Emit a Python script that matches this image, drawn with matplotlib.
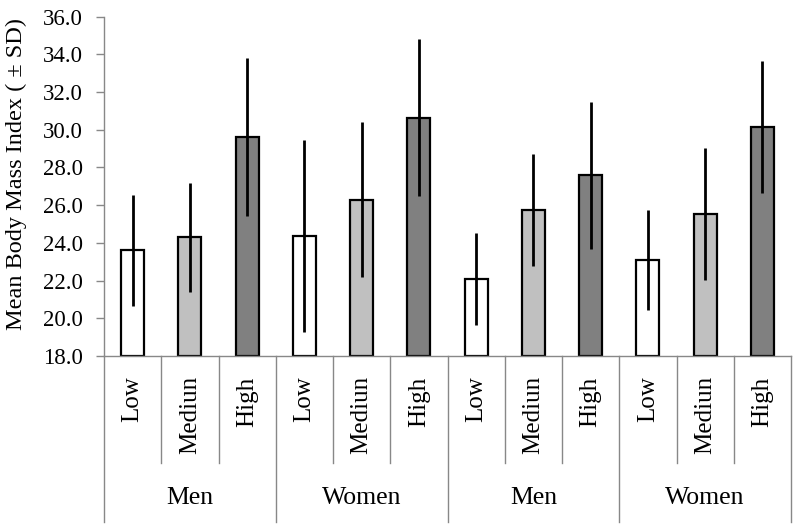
import matplotlib
matplotlib.use("Agg")
import matplotlib.pyplot as plt
import matplotlib.transforms as mtransforms
import numpy as np

# data
groups = ["Men", "Women", "Men", "Women"]
levels = ["Low", "Mediun", "High"]
means = [23.6, 24.3, 29.6, 24.35, 26.3, 30.65, 22.1, 25.75, 27.6, 23.1, 25.55, 30.15]
sds = [2.95, 2.9, 4.2, 5.1, 4.1, 4.15, 2.45, 2.95, 3.9, 2.65, 3.5, 3.5]
level_colors = ["#ffffff", "#c0c0c0", "#808080"]

plt.rcParams["font.family"] = ["Liberation Serif", "DejaVu Serif"]

fig = plt.figure(figsize=(8, 5.31), dpi=100)
ax = fig.add_axes([0.13, 0.3296, 0.85875, 0.639])

n = len(means)
x = np.arange(n)
colors = [level_colors[i % 3] for i in range(n)]
ax.bar(x, np.array(means) - 18.0, bottom=18.0, width=0.4, color=colors,
       edgecolor="black", linewidth=1.6, zorder=2)
ax.errorbar(x, means, yerr=sds, fmt="none", ecolor="black", elinewidth=2,
            capsize=0, zorder=3)

ax.set_xlim(-0.5, n - 0.5)
ax.set_ylim(18, 36)
ax.set_yticks(np.arange(18, 36.1, 2))
ax.set_yticklabels([f"{v:.1f}" for v in np.arange(18, 36.1, 2)], fontsize=16.5)
ax.set_xticks([])
ax.tick_params(axis="y", length=6, width=1, color="#888888", pad=9)
for side in ["top", "right"]:
    ax.spines[side].set_visible(False)
for side in ["left", "bottom"]:
    ax.spines[side].set_color("#888888")
    ax.spines[side].set_linewidth(1)
ax.set_ylabel("Mean Body Mass Index ( \u00b1 SD)", fontsize=17.5, labelpad=10)
ax.yaxis.set_label_coords(-0.112, 0.535)

trans = mtransforms.blended_transform_factory(ax.transData, ax.transAxes)

# separators below the axis
for k in range(n + 1):
    xb = k - 0.5
    y_end = -0.489 if k % 3 == 0 else -0.315
    ax.plot([xb, xb], [0, y_end], color="#888888", linewidth=1,
            transform=trans, clip_on=False)

# level labels (rotated)
for i in range(n):
    ax.text(i, -0.060, levels[i % 3], rotation=90, ha="center", va="top",
            fontsize=18, transform=trans)

# group labels
for g, name in enumerate(groups):
    ax.text(3 * g + 1, -0.4185, name, ha="center", va="center",
            fontsize=18.5, transform=trans)

fig.savefig("out.png", dpi=100)
